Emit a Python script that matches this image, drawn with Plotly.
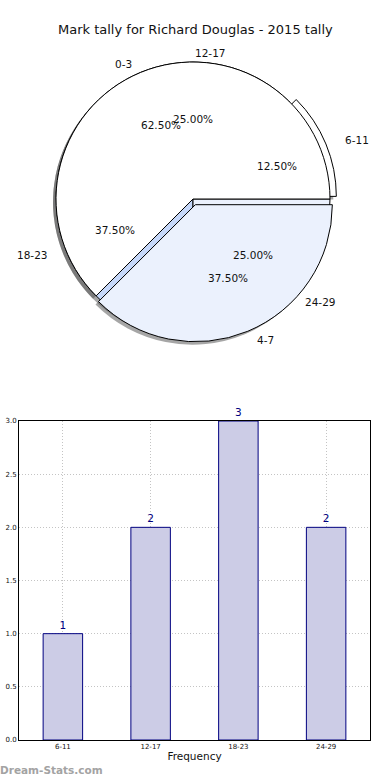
import math
import plotly.graph_objects as go

# ---------------- data ----------------
chart_title = "Mark tally for Richard Douglas - 2015 tally"

pie_a_labels = ["0-3", "4-7"]
pie_a_values = [5, 3]
pie_a_colors = ["#FFFFFF", "#EBF1FD"]
pie_a_pull = [0.0, 0.045]

pie_b_labels = ["6-11", "12-17", "18-23", "24-29"]
pie_b_values = [1, 2, 3, 2]
pie_b_colors = ["#FFFFFF", "#FFFFFF", "#C6D8FA", "#EBF1FD"]
pie_b_pull = [0.05, 0.0, 0.0, 0.0]

bar_categories = ["6-11", "12-17", "18-23", "24-29"]
bar_values = [1, 2, 3, 2]
y_tick_values = [0.0, 0.5, 1.0, 1.5, 2.0, 2.5, 3.0]
x_axis_title = "Frequency"
watermark = "Dream-Stats.com"

# ---------------- layout constants (pixels) ----------------
W, H = 390, 780
CX, CY = 193, 199          # pie centre
R = 137                    # pie radius
RX, RY = 141, 133          # label placement radii
SHADOW_DX, SHADOW_DY = -3, 3
FONT = "DejaVu Sans"


def pie_domain(pulls, dx=0, dy=0):
    half = R * (1 + max(pulls))
    cx, cy = CX + dx, CY + dy
    return dict(x=[(cx - half) / W, (cx + half) / W],
                y=[1 - (cy + half) / H, 1 - (cy - half) / H])


def pie_rotation(values):
    # first slice starts at 3 o'clock and slices run counter-clockwise
    return 90 - 360.0 * values[0] / sum(values)


def pie_trace(labels, values, colors, pulls, dx=0, dy=0, shadow=False):
    return go.Pie(
        labels=labels, values=values, sort=False,
        direction="counterclockwise", rotation=pie_rotation(values),
        pull=pulls,
        marker=dict(
            colors=["rgba(77,77,77,0.5)"] * len(values) if shadow else colors,
            line=dict(color="black", width=0 if shadow else 1),
        ),
        textinfo="none", hoverinfo="skip", showlegend=False,
        domain=pie_domain(pulls, dx, dy),
    )


def pie_annotations(labels, values, pulls):
    anns = []
    total = float(sum(values))
    start = 0.0
    for lab, v, p in zip(labels, values, pulls):
        frac = v / total
        mid = 2 * math.pi * (start + frac / 2)
        start += frac
        c, s = math.cos(mid), math.sin(mid)
        ox, oy = p * R * c, p * R * s
        px, py = CX + ox + 0.6 * RX * c, CY - oy - 0.6 * RY * s
        lx, ly = CX + ox + 1.1 * RX * c, CY - oy - 1.1 * RY * s
        anns.append(dict(x=px / W, y=1 - py / H, xref="paper", yref="paper",
                         text=f"{frac * 100:.2f}%", showarrow=False,
                         xanchor="center", yanchor="middle",
                         font=dict(family=FONT, size=10.5, color="#111111")))
        anns.append(dict(x=lx / W, y=1 - ly / H, xref="paper", yref="paper",
                         text=lab, showarrow=False,
                         xanchor="left" if c >= -1e-9 else "right", yanchor="middle",
                         font=dict(family=FONT, size=10.5, color="#111111")))
    return anns


fig = go.Figure()

# shadows first (underneath everything)
fig.add_trace(pie_trace(pie_b_labels, pie_b_values, pie_b_colors, pie_b_pull,
                        SHADOW_DX, SHADOW_DY, shadow=True))
fig.add_trace(pie_trace(pie_a_labels, pie_a_values, pie_a_colors, pie_a_pull,
                        SHADOW_DX, SHADOW_DY, shadow=True))
# the two overlaid pies
fig.add_trace(pie_trace(pie_b_labels, pie_b_values, pie_b_colors, pie_b_pull))
fig.add_trace(pie_trace(pie_a_labels, pie_a_values, pie_a_colors, pie_a_pull))

# bar chart
fig.add_trace(go.Bar(
    x=bar_categories, y=bar_values, width=0.45,
    marker=dict(color="#CCCCE6", line=dict(color="#000080", width=1)),
    text=[str(v) for v in bar_values], textposition="outside",
    textfont=dict(family=FONT, size=10.5, color="#000080"),
    cliponaxis=False, hoverinfo="skip", showlegend=False,
))

annotations = []
annotations += pie_annotations(pie_b_labels, pie_b_values, pie_b_pull)
annotations += pie_annotations(pie_a_labels, pie_a_values, pie_a_pull)
annotations.append(dict(x=0.5, y=1 - 30 / H, xref="paper", yref="paper",
                        text=chart_title, showarrow=False,
                        xanchor="center", yanchor="middle",
                        font=dict(family=FONT, size=13, color="#111111")))
annotations.append(dict(x=-2 / W, y=1 - 770 / H, xref="paper", yref="paper",
                        text="<b>" + watermark + "</b>", showarrow=False,
                        xanchor="left", yanchor="middle",
                        font=dict(family=FONT, size=10.5, color="#a3a3a3")))

grid_dash = "1px,2px"
fig.update_layout(
    width=W, height=H,
    margin=dict(l=0, r=0, t=0, b=0, autoexpand=False),
    paper_bgcolor="white", plot_bgcolor="white",
    showlegend=False,
    annotations=annotations,
    xaxis=dict(
        domain=[19 / W, 370 / W], range=[-0.5, 3.5], automargin=False,
        showline=True, mirror=True, linecolor="black", linewidth=1,
        showgrid=True, gridcolor="#c4c4c4", griddash=grid_dash, gridwidth=1,
        ticks="", tickfont=dict(family=FONT, size=7, color="#111111"),
        title=dict(text=x_axis_title, standoff=2,
                   font=dict(family=FONT, size=10.5, color="#111111")),
        fixedrange=True,
    ),
    yaxis=dict(
        domain=[1 - 740 / H, 1 - 421 / H], range=[0, 3.0], automargin=False,
        tickvals=y_tick_values, tickformat=".1f",
        showline=True, mirror=True, linecolor="black", linewidth=1,
        showgrid=True, gridcolor="#c4c4c4", griddash=grid_dash, gridwidth=1,
        zeroline=False,
        ticks="", tickfont=dict(family=FONT, size=7, color="#111111"),
        fixedrange=True,
    ),
)

fig.write_html(
    "out.html",
    config={"displayModeBar": False},
    post_script="document.body.style.margin='0';document.body.style.overflow='hidden';",
)
